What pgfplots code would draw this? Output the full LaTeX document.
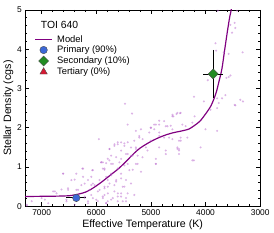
\documentclass[border=0pt]{standalone}
\usepackage{pgfplots}
\pgfplotsset{compat=1.18}
\usepackage{fontspec}
\setmainfont{Liberation Sans}
\definecolor{modelc}{RGB}{128,0,128}
\definecolor{ptc}{RGB}{185,105,205}
\definecolor{primc}{RGB}{60,105,215}
\definecolor{secc}{RGB}{35,140,35}
\definecolor{terc}{RGB}{215,25,50}
\newcommand{\lf}{\fontsize{9.5}{11}\selectfont}
\begin{document}
\begin{tikzpicture}
\begin{axis}[
  scale only axis, width=238pt, height=199pt,
  x dir=reverse, xmin=3000, xmax=7300, ymin=0, ymax=5,
  xtick={3000,4000,5000,6000,7000}, ytick={0,1,2,3,4,5},
  minor x tick num=4, minor y tick num=4,
  tick align=inside, major tick length=4pt, minor tick length=2pt,
  axis line style={line width=0.6pt}, tick style={line width=0.6pt, black},
  /pgf/number format/assume math mode=true,
  /pgf/number format/1000 sep={},
  tick label style={font=\fontsize{8.5}{10}\selectfont},
  label style={font=\fontsize{10.8}{12}\selectfont},
  xlabel={Effective Temperature (K)},
  ylabel={Stellar Density (cgs)},
  xlabel style={yshift=3pt}, ylabel style={yshift=-3pt},
  legend style={at={(rel axis cs:0.035,0.88)}, anchor=north west, draw=none, fill=none,
    font=\lf, row sep=1.2pt, inner sep=1pt, nodes={inner sep=0.6pt, font=\lf},
    /tikz/every odd column/.append style={column sep=4pt}},
  legend cell align=left,
  clip=true,
]
\addplot[only marks, mark=*, mark size=1.15pt, color=ptc, fill opacity=0.5, draw opacity=0, forget plot] table {
x y
5951 1.71
6255 0.96
6073 0.92
6606 0.83
6394 0.68
6242 0.75
6151 0.67
5909 1.12
5849 0.93
5758 1.17
5818 0.75
6515 0.46
6636 0.43
6333 0.42
6273 0.54
6091 0.54
6788 0.38
6727 0.33
7000 0.21
7182 0.13
6879 0.08
6545 0.13
6394 0.04
6212 0.21
6091 0.29
6000 0.17
5879 0.25
6151 0.08
5818 0.08
5939 0.42
5849 0.46
6061 0.58
5758 0.58
7270 0.02
7273 0.04
6939 0.17
6758 0.38
5473 2.61
5345 2.36
4515 2.38
4455 2.38
4606 2.29
5424 2.08
5273 1.92
5182 1.96
5000 2.00
4909 2.08
4848 2.08
4758 2.17
4697 2.04
5030 1.88
4848 1.88
5212 1.79
5152 1.71
5303 1.67
5000 1.67
5545 1.63
5606 1.63
5667 1.54
5485 1.54
5364 1.50
5758 1.46
5273 1.46
4758 1.75
4606 1.71
4455 1.67
4485 1.42
4515 1.50
4727 1.42
5061 1.42
5455 1.33
5364 1.29
5242 1.29
5636 1.25
5788 1.21
5545 1.21
5879 1.12
5697 1.08
5424 1.08
5242 1.08
4909 1.08
5849 0.96
5606 0.96
5333 0.93
5182 0.88
5727 0.79
5545 0.71
5364 0.58
5636 0.63
5788 0.50
5485 0.50
5667 0.38
5545 0.33
5849 0.29
5606 0.25
5455 0.21
5303 0.29
5727 0.17
5515 0.13
5818 0.08
3818 4.15
3545 4.62
3467 4.67
3455 4.54
3515 4.42
3606 4.38
3667 3.92
3576 3.88
3321 3.92
3806 3.96
3545 3.33
3576 3.29
3618 3.27
3958 3.21
4212 2.79
4030 2.67
3788 2.75
3636 2.83
3455 2.57
3315 2.67
3758 2.63
3788 2.50
3909 2.46
4588 2.29
4533 2.35
4467 2.37
4200 2.29
4364 2.04
4636 2.05
3788 1.92
4000 1.96
4242 1.17
4091 1.50
4515 1.46
4455 1.75
4939 2.08
3776 4.98
3424 4.98
3697 2.75
3364 2.71
3467 2.58
5667 1.58
5606 1.58
5485 1.60
5758 1.46
5545 1.42
5424 1.33
5727 1.29
5909 1.12
5818 1.10
5727 1.08
5576 1.12
5485 1.04
6061 0.92
5879 0.96
5727 0.83
5545 0.83
5394 0.92
6242 0.96
6364 0.83
6091 0.75
5939 0.67
5788 0.67
5636 0.67
5455 0.67
6606 0.83
6455 0.67
6212 0.58
6030 0.54
5849 0.50
5667 0.54
5515 0.50
6515 0.42
6364 0.42
6121 0.42
5970 0.38
5788 0.33
5606 0.33
5424 0.33
6212 0.25
6061 0.21
5879 0.21
5697 0.21
5545 0.25
6545 0.17
6151 0.13
5970 0.13
5788 0.13
5606 0.13
5455 0.13
4606 2.33
4848 2.18
5000 2.00
4939 1.96
4727 2.04
4606 1.96
4424 2.08
4242 2.13
4848 1.79
4667 1.75
4485 1.67
4333 1.75
5212 1.75
5424 1.63
5273 1.50
5091 1.50
4848 1.50
4485 1.46
4727 1.33
4485 1.33
5333 1.29
5152 1.25
4909 1.21
4212 1.17
5273 1.08
4909 1.08
};
\addplot[modelc, line width=1.2pt, smooth] table {
x y
7300 0.25
7000 0.255
6700 0.26
6500 0.27
6400 0.29
6300 0.32
6200 0.36
6100 0.43
6000 0.52
5900 0.62
5800 0.73
5700 0.84
5600 0.95
5500 1.08
5400 1.22
5300 1.36
5200 1.48
5100 1.57
5000 1.65
4900 1.72
4800 1.78
4700 1.83
4600 1.87
4500 1.90
4400 1.93
4300 1.97
4200 2.06
4100 2.17
4000 2.35
3950 2.45
3900 2.56
3850 2.72
3800 2.92
3750 3.20
3700 3.50
3650 3.98
3600 4.45
3560 4.80
3530 5.00
3510 5.20
};
\addlegendentry{Model}
\addplot[only marks, mark=*, mark size=3.8pt, mark options={fill=primc, draw=black!70, line width=0.4pt},
  error bars/.cd, x dir=both, y dir=both, x explicit, y explicit,
  error bar style={black, line width=0.8pt}, error mark options={black, line width=0.8pt, mark size=2.5pt}]
  coordinates {(6365,0.215) +- (135,0.03)};
\addlegendentry{Primary (90\%)}
\addplot[only marks, mark=square*, mark size=3.6pt, mark options={rotate=45, fill=secc, draw=black!70, line width=0.4pt},
  error bars/.cd, x dir=both, y dir=both, x explicit, y explicit,
  error bar style={black, line width=0.8pt}, error mark options={black, line width=0.8pt, mark size=2.5pt}]
  coordinates {(3860,3.37) += (135,0.55) -= (135,0.56)};
\addlegendentry{Secondary (10\%)}
\addlegendimage{only marks, mark=triangle*, mark size=4.3pt, mark options={fill=terc, draw=black!70, line width=0.4pt}}
\addlegendentry{Tertiary (0\%)}
\node[anchor=west, font=\fontsize{10.5}{12}\selectfont] at (rel axis cs:0.052,0.922) {TOI 640};
\end{axis}
\path ([xshift=-2pt,yshift=-2pt]current axis.north east) rectangle ([xshift=14pt,yshift=10pt]current axis.north east);
\end{tikzpicture}
\end{document}
